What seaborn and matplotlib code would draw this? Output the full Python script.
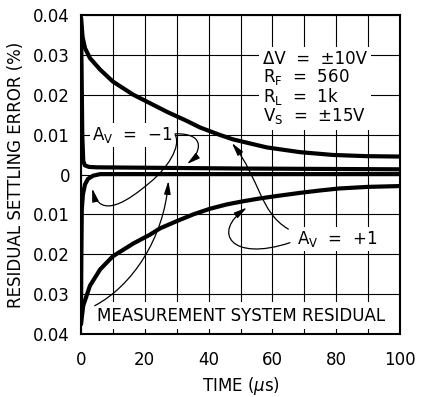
"""
Residual settling error vs time - datasheet style chart
"""

import matplotlib
matplotlib.use("Agg")
import matplotlib.pyplot as plt
import seaborn as sns
from matplotlib.patches import FancyArrowPatch
from matplotlib.path import Path


# -----------------------------
# Data
# -----------------------------

time_plus_top = [0, 0.5, 1.25, 2.8, 6, 10, 16.4, 21.6, 27, 33, 37.3,
                 43.6, 47.7, 58.2, 68.7, 79, 89.6, 100]
error_plus_top = [0.0393, 0.0345, 0.0317, 0.0292, 0.0263, 0.0233, 0.0200,
                  0.0179, 0.0157, 0.0135, 0.0118, 0.0099, 0.0088, 0.0068,
                  0.0056, 0.0049, 0.0046, 0.0045]

time_plus_bottom = [0, 0.7, 2.8, 6, 10, 16.4, 21.6, 24.8, 30, 35.2, 40.4,
                    45.7, 50.9, 56.1, 61.3, 68.7, 75, 81, 90, 100]
error_plus_bottom = [-0.0375, -0.0329, -0.0279, -0.0238, -0.0205, -0.0173,
                     -0.0151, -0.0135, -0.0117, -0.0100, -0.0086, -0.0075,
                     -0.0067, -0.0060, -0.0054, -0.0046, -0.0040, -0.0035,
                     -0.0031, -0.0029]

time_minus_top = [0, 0.2, 0.4, 0.7, 1.2, 2.5, 5, 20, 50, 100]
error_minus_top = [0.0393, 0.025, 0.010, 0.0034, 0.0023, 0.0019, 0.0018,
                   0.0017, 0.0015, 0.0013]

time_minus_bottom = [0, 0.1, 0.25, 0.6, 1.25, 2.2, 3.8, 6, 20, 100]
error_minus_bottom = [-0.0375, -0.022, -0.0088, -0.0050, -0.0025, -0.0011,
                      -0.0003, 0.0001, 0.0001, 0.0001]

x_ticks = list(range(0, 101, 10))
x_tick_labels = ["0", "", "20", "", "40", "", "60", "", "80", "", "100"]

y_ticks = [-0.04, -0.03, -0.02, -0.01, 0, 0.01, 0.02, 0.03, 0.04]
y_tick_labels = ["0.04", "0.03", "0.02", "0.01", "0",
                 "0.01", "0.02", "0.03", "0.04"]

conditions = ("\u0394V  =  \u00b110V\n"
              "R$_{\\rm F}$  =  560\n"
              "R$_{\\rm L}$  =  1k\n"
              "V$_{\\rm S}$  =  \u00b115V")


# -----------------------------
# Figure
# -----------------------------

sns.set_style("white")
plt.rcParams["font.family"] = ["DejaVu Sans"]
plt.rcParams["text.color"] = "black"
plt.rcParams["axes.labelcolor"] = "black"

fig = plt.figure(figsize=(4.27, 3.97), dpi=100)
ax = fig.add_axes([0.1897, 0.1587, 0.7471, 0.8035])

curves = [
    (time_plus_top, error_plus_top),
    (time_plus_bottom, error_plus_bottom),
    (time_minus_top, error_minus_top),
    (time_minus_bottom, error_minus_bottom),
]

for t, e in curves:
    sns.lineplot(
        x=t,
        y=e,
        ax=ax,
        color="black",
        linewidth=3,
        estimator=None,
        sort=False,
        zorder=4
    )

ax.set_xlim(0, 100)
ax.set_ylim(-0.04, 0.04)

ax.set_xticks(x_ticks)
ax.set_xticklabels(x_tick_labels)
ax.set_yticks(y_ticks)
ax.set_yticklabels(y_tick_labels)

ax.tick_params(axis="x", length=0, pad=12.5, labelsize=12,
               colors="black", labelcolor="black")
ax.tick_params(axis="y", length=0, pad=8, labelsize=12,
               colors="black", labelcolor="black")

ax.set_axisbelow(True)
ax.grid(True, color="black", linewidth=0.8)

for spine in ax.spines.values():
    spine.set_visible(True)
    spine.set_color("black")
    spine.set_linewidth(1.5)

ax.set_xlabel("TIME ($\\mu$s)", fontsize=12, labelpad=4, color="black")
ax.set_ylabel("RESIDUAL SETTLING ERROR (%)", fontsize=12, labelpad=6,
              color="black")

# -----------------------------
# Labels
# -----------------------------

white_box = dict(facecolor="white", edgecolor="none", pad=1.5)

ax.text(3.6, 0.0100, "A$_{\\rm V}$  =  \u22121", fontsize=12,
        ha="left", va="center", bbox=white_box, zorder=3)

ax.text(67.7, -0.0163, "A$_{\\rm V}$  =  +1", fontsize=12,
        ha="left", va="center", bbox=white_box, zorder=3)

ax.text(57, 0.0216, conditions, fontsize=12, linespacing=0.93,
        ha="left", va="center",
        bbox=dict(facecolor="white", edgecolor="none", pad=3), zorder=3)

ax.text(5, -0.0354, "MEASUREMENT SYSTEM RESIDUAL", fontsize=12,
        ha="left", va="center",
        bbox=dict(facecolor="white", edgecolor="none", pad=3), zorder=3)

# -----------------------------
# Pointer arrows
# -----------------------------

M, C = Path.MOVETO, Path.CURVE4

pointers = [
    [(29.5, 0.0102), (40, 0.0104), (37, 0.0050), (33.2, 0.0026)],
    [(29.5, 0.0100), (31.5, 0.0070), (27, 0.0015), (21.6, -0.0020),
     (15, -0.0065), (6, -0.0115), (3.5, -0.0035)],
    [(4.3, -0.0329), (16, -0.0280), (26, -0.0160), (27.4, -0.0016)],
    [(65.5, -0.0171), (47, -0.0220), (41, -0.0145), (52, -0.0083)],
    [(65, -0.0137), (56, -0.0095), (56, -0.0010), (47.3, 0.0079)],
]

for verts in pointers:
    codes = [M] + [C] * (len(verts) - 1)
    arrow = FancyArrowPatch(
        path=Path(verts, codes),
        arrowstyle="-|>,head_length=0.6,head_width=0.15",
        mutation_scale=13,
        color="black",
        linewidth=0.9,
        shrinkA=0,
        shrinkB=0,
        zorder=3.5
    )
    ax.add_patch(arrow)

fig.savefig("out.png", dpi=100)
plt.close(fig)
